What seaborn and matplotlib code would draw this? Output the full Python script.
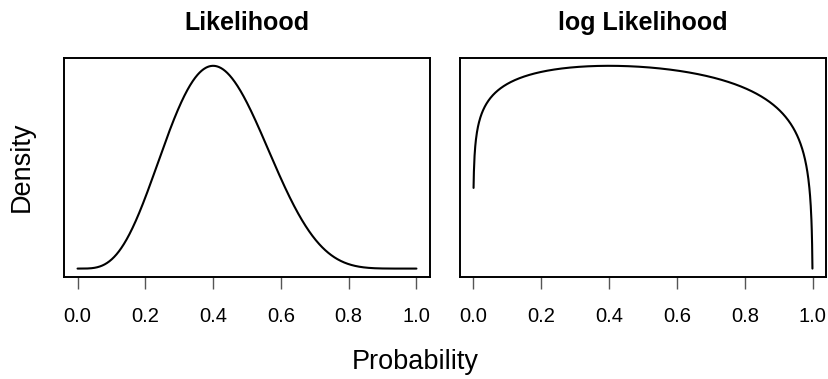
import numpy as np
import pandas as pd
import matplotlib
matplotlib.use("Agg")
import matplotlib.pyplot as plt
import seaborn as sns

# observed binomial data behind the curves
successes = 4
trials = 10
prob_lo = 0.001
prob_hi = 0.999
titles = ["Likelihood", "log Likelihood"]
tick_values = [0.0, 0.2, 0.4, 0.6, 0.8, 1.0]
tick_labels = ["0.0", "0.2", "0.4", "0.6", "0.8", "1.0"]

p_full = np.linspace(0, 1, 1001)
p_log = np.linspace(prob_lo, prob_hi, 999)
lik = p_full ** successes * (1 - p_full) ** (trials - successes)
loglik = successes * np.log(p_log) + (trials - successes) * np.log(1 - p_log)

df_lik = pd.DataFrame({"p": p_full, "y": lik})
df_log = pd.DataFrame({"p": p_log, "y": loglik})

sns.set_style("white")
plt.rcParams["font.family"] = ["Liberation Sans", "DejaVu Sans"]
plt.rcParams["text.color"] = "black"
plt.rcParams["xtick.labelcolor"] = "black"

W, H = 829, 379
fig = plt.figure(figsize=(W / 100, H / 100), dpi=100)

boxes = [(64, 430), (460, 826)]
top, bottom = 57.7, 276.7


def pad_lim(v):
    lo, hi = float(np.min(v)), float(np.max(v))
    d = (hi - lo) * 0.04
    return lo - d, hi + d


for (x0, x1), df, title in zip(boxes, [df_lik, df_log], titles):
    ax = fig.add_axes([x0 / W, 1 - bottom / H, (x1 - x0) / W, (bottom - top) / H])
    sns.lineplot(data=df, x="p", y="y", ax=ax, color="black", linewidth=1.5)
    ax.set_xlim(pad_lim(df["p"]))
    ax.set_ylim(pad_lim(df["y"]))
    ax.set_xticks(tick_values)
    ax.set_xticklabels(tick_labels, fontsize=14.5, color="black")
    ax.set_yticks([])
    ax.set_xlabel("")
    ax.set_ylabel("")
    ax.tick_params(axis="x", direction="out", length=8.6, width=1.0,
                   color="#555555", pad=13, bottom=True)
    for s in ax.spines.values():
        s.set_linewidth(1.4)
        s.set_color("black")
    ax.set_title(title, fontsize=18, fontweight="bold", pad=20, color="black")

fig.text(415 / W, 1 - 362 / H, "Probability", ha="center", va="center",
         fontsize=19.5, color="black")
fig.text(22 / W, 1 - 167 / H, "Density", ha="center", va="center",
         rotation=90, fontsize=19.5, color="black")

fig.savefig("out.png", dpi=100)
